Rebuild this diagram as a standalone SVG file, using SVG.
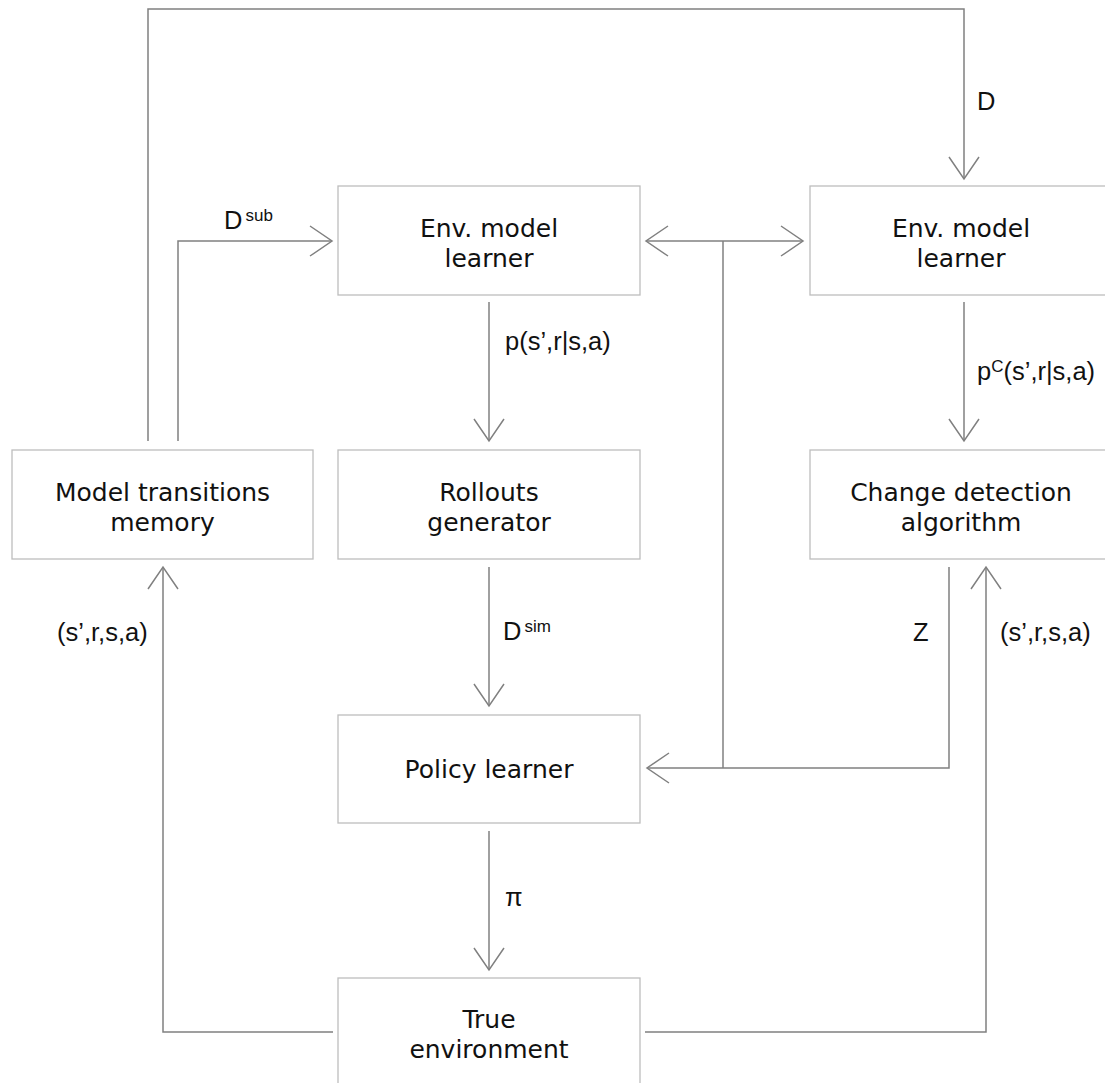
<svg xmlns="http://www.w3.org/2000/svg" width="1105" height="1083" viewBox="0 0 1105 1083">
<style>
.box{fill:#fff;stroke:#bdbdbd;stroke-width:1.3}
.nt{font-family:"DejaVu Sans",Verdana,sans-serif;font-size:25px;fill:#111;text-anchor:middle}
.ln{fill:none;stroke:#808080;stroke-width:1.5}
.lb{font-family:"Liberation Sans",Arial,sans-serif;font-size:25.5px;fill:#111}
.sup{font-size:17px}
</style>
<defs>
<marker id="ah" markerUnits="userSpaceOnUse" viewBox="-24 -17 26 34" markerWidth="26" markerHeight="34" refX="0" refY="0" orient="auto" overflow="visible">
<path d="M-22,-15 L0,0 L-22,15" fill="none" stroke="#808080" stroke-width="1.5"/>
</marker>
</defs>
<rect width="1105" height="1083" fill="#fff"/>
<g id="connectors">
<polyline class="ln" points="148,441 148,9 964,9 964,179" marker-end="url(#ah)"/>
<polyline class="ln" points="178,441 178,241 332,241" marker-end="url(#ah)"/>
<line class="ln" x1="489" y1="302" x2="489" y2="441" marker-end="url(#ah)"/>
<line class="ln" x1="489" y1="567" x2="489" y2="706" marker-end="url(#ah)"/>
<line class="ln" x1="489" y1="831" x2="489" y2="970" marker-end="url(#ah)"/>
<line class="ln" x1="964" y1="302" x2="964" y2="441" marker-end="url(#ah)"/>
<line class="ln" x1="723" y1="241" x2="646" y2="241" marker-end="url(#ah)"/>
<line class="ln" x1="723" y1="241" x2="803" y2="241" marker-end="url(#ah)"/>
<line class="ln" x1="723" y1="241" x2="723" y2="768"/>
<polyline class="ln" points="949,567 949,768 647,768" marker-end="url(#ah)"/>
<polyline class="ln" points="333,1032 163,1032 163,567" marker-end="url(#ah)"/>
<polyline class="ln" points="645,1032 986,1032 986,567" marker-end="url(#ah)"/>
<text class="lb" x="977" y="110">D</text>
<text class="lb" x="224" y="229">D<tspan class="sup" dx="3" dy="-8">sub</tspan></text>
<text class="lb" x="505" y="350">p(s’,r|s,a)</text>
<text class="lb" x="977" y="380">p<tspan class="sup" dy="-8">C</tspan><tspan dy="8">(s’,r|s,a)</tspan></text>
<text class="lb" x="503" y="640">D<tspan class="sup" dx="3" dy="-8">sim</tspan></text>
<text class="lb" x="57" y="641">(s’,r,s,a)</text>
<text class="lb" x="913" y="641">Z</text>
<text class="lb" x="1000" y="641">(s’,r,s,a)</text>
<text class="lb" x="505" y="906">π</text>
</g>
<g id="env-model-learner-1">
<rect class="box" x="338" y="186" width="302" height="109"/>
<text class="nt" x="489" y="237">Env. model</text>
<text class="nt" x="489" y="267">learner</text>
</g>
<g id="env-model-learner-2">
<rect class="box" x="810" y="186" width="302" height="109"/>
<text class="nt" x="961" y="237">Env. model</text>
<text class="nt" x="961" y="267">learner</text>
</g>
<g id="model-transitions-memory">
<rect class="box" x="12" y="450" width="301" height="109"/>
<text class="nt" x="162.5" y="501">Model transitions</text>
<text class="nt" x="162.5" y="531">memory</text>
</g>
<g id="rollouts-generator">
<rect class="box" x="338" y="450" width="302" height="109"/>
<text class="nt" x="489" y="501">Rollouts</text>
<text class="nt" x="489" y="531">generator</text>
</g>
<g id="change-detection">
<rect class="box" x="810" y="450" width="302" height="109"/>
<text class="nt" x="961" y="501">Change detection</text>
<text class="nt" x="961" y="531">algorithm</text>
</g>
<g id="policy-learner">
<rect class="box" x="338" y="715" width="302" height="108"/>
<text class="nt" x="489" y="778">Policy learner</text>
</g>
<g id="true-environment">
<rect class="box" x="338" y="978" width="302" height="109"/>
<text class="nt" x="489" y="1028">True</text>
<text class="nt" x="489" y="1058">environment</text>
</g>
</svg>
